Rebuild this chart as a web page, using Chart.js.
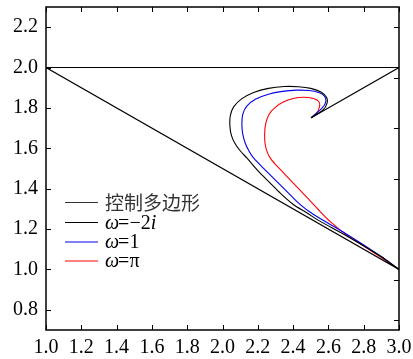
<!DOCTYPE html>
<html>
<head>
<meta charset="utf-8">
<script src="https://cdn.jsdelivr.net/npm/chart.js@4/dist/chart.umd.min.js"></script>
<style>
  html, body { margin: 0; padding: 0; background: #fff; }
  #wrap { width: 413px; height: 359px; }
</style>
</head>
<body>
<div id="wrap"><canvas id="chart" width="413" height="359"></canvas></div>
<script>
// axis ranges and ticks
const xRange = [1.0, 3.0]
const yRange = [0.7, 2.3]
const xTicks = [1.0, 1.2, 1.4, 1.6, 1.8, 2.0, 2.2, 2.4, 2.6, 2.8, 3.0]
const yTicks = [0.8, 1.0, 1.2, 1.4, 1.6, 1.8, 2.0, 2.2]
const rightTicks = [2.2, 1.95, 1.7, 1.45, 1.2, 0.95, 0.75]

// control polygon
const polyX = [3.0, 1.0, 3.0, 2.5]
const polyY = [1.0, 2.0, 2.0, 1.75]

// omega = -2i
const blackX = [2.505, 2.570, 2.592, 2.590, 2.560, 2.500, 2.430, 2.350, 2.260, 2.180, 2.110, 2.063, 2.044, 2.042, 2.050, 2.070, 2.100, 2.139, 2.212, 2.269, 2.326, 2.401, 2.477, 2.534, 2.704, 2.892, 3.0]
const blackY = [1.753, 1.790, 1.823, 1.852, 1.878, 1.897, 1.905, 1.906, 1.897, 1.878, 1.846, 1.805, 1.760, 1.710, 1.665, 1.625, 1.588, 1.551, 1.478, 1.429, 1.379, 1.322, 1.281, 1.248, 1.166, 1.068, 1.0]

// omega = 1
const blueX = [2.505, 2.565, 2.585, 2.578, 2.545, 2.490, 2.420, 2.340, 2.260, 2.186, 2.139, 2.116, 2.110, 2.114, 2.129, 2.150, 2.177, 2.250, 2.307, 2.364, 2.439, 2.514, 2.704, 2.892, 3.0]
const blueY = [1.753, 1.800, 1.830, 1.858, 1.876, 1.886, 1.888, 1.882, 1.868, 1.843, 1.810, 1.772, 1.723, 1.674, 1.625, 1.587, 1.551, 1.486, 1.436, 1.387, 1.322, 1.273, 1.174, 1.068, 1.0]

// omega = pi
const redX = [2.505, 2.534, 2.550, 2.545, 2.515, 2.460, 2.400, 2.344, 2.299, 2.265, 2.245, 2.239, 2.241, 2.250, 2.268, 2.300, 2.344, 2.401, 2.477, 2.552, 2.609, 2.704, 2.798, 3.0]
const redY = [1.753, 1.776, 1.807, 1.832, 1.847, 1.853, 1.847, 1.829, 1.803, 1.770, 1.723, 1.674, 1.625, 1.590, 1.555, 1.520, 1.480, 1.428, 1.358, 1.288, 1.238, 1.170, 1.117, 1.0]

const labels = ['控制多边形', 'ω=−2i', 'ω=1', 'ω=π']
const colors = ['#000000', '#000000', '#0000ee', '#ff0000']

const pts = (xs, ys) => xs.map((x, i) => ({ x: x, y: ys[i] }))

function line (label, data, color, tension) {
  return {
    label: label,
    data: data,
    showLine: true,
    borderColor: color,
    borderWidth: 1.1,
    pointRadius: 0,
    tension: tension,
    fill: false
  }
}

const serif = "'Liberation Serif', 'Times New Roman', serif"

// frame, inward ticks and legend
const decor = {
  id: 'decor',
  afterDraw (chart) {
    const { ctx, chartArea: a, scales } = chart
    ctx.save()
    ctx.strokeStyle = '#000'
    ctx.lineWidth = 1.5
    ctx.strokeRect(a.left, a.top, a.right - a.left, a.bottom - a.top)
    ctx.lineWidth = 1
    ctx.beginPath()
    xTicks.forEach(v => {
      const px = Math.round(scales.x.getPixelForValue(v)) + 0.5
      ctx.moveTo(px, a.bottom); ctx.lineTo(px, a.bottom - 5)
      ctx.moveTo(px, a.top); ctx.lineTo(px, a.top + 5)
    })
    yTicks.forEach(v => {
      const py = Math.round(scales.y.getPixelForValue(v)) + 0.5
      ctx.moveTo(a.left, py); ctx.lineTo(a.left + 5, py)
    })
    rightTicks.forEach(v => {
      const py = Math.round(scales.y.getPixelForValue(v)) + 0.5
      ctx.moveTo(a.right, py); ctx.lineTo(a.right - 5, py)
    })
    ctx.stroke()

    // legend
    const lx = 65, tx = 105
    const rows = [202.5, 222.5, 242, 261]
    ctx.textBaseline = 'middle'
    rows.forEach((y, i) => {
      ctx.strokeStyle = i === 0 ? '#333' : colors[i]
      ctx.lineWidth = 1.2
      ctx.beginPath()
      ctx.moveTo(lx, y); ctx.lineTo(lx + 33, y)
      ctx.stroke()
    })
    ctx.fillStyle = '#333'
    ctx.font = "19px 'Noto Sans CJK SC'"
    ctx.fillText(labels[0], tx, rows[0])
    ctx.fillStyle = '#000'
    const parts = [
      [['ω', true], ['=−2', false], ['i', true]],
      [['ω', true], ['=1', false]],
      [['ω', true], ['=π', false]]
    ]
    parts.forEach((p, i) => {
      let x = tx
      p.forEach(([s, it]) => {
        ctx.font = (it ? 'italic ' : '') + '20px ' + serif
        ctx.fillText(s, x, rows[i + 1] + 1)
        x += ctx.measureText(s).width - (it && s === 'ω' ? 1 : 0)
      })
    })
    ctx.restore()
  }
}

new Chart(document.getElementById('chart'), {
  type: 'scatter',
  data: {
    datasets: [
      line(labels[0], pts(polyX, polyY), colors[0], 0),
      line(labels[1], pts(blackX, blackY), colors[1], 0.3),
      line(labels[2], pts(blueX, blueY), colors[2], 0.3),
      line(labels[3], pts(redX, redY), colors[3], 0.3)
    ]
  },
  options: {
    responsive: false,
    animation: false,
    devicePixelRatio: 1,
    layout: { padding: { top: 7, right: 14, left: 0, bottom: 0 } },
    plugins: { legend: { display: false }, tooltip: { enabled: false } },
    scales: {
      x: {
        type: 'linear',
        min: xRange[0],
        max: xRange[1],
        afterBuildTicks: s => { s.ticks = xTicks.map(v => ({ value: v })) },
        afterFit: s => { s.height = 29; s.paddingLeft = 0; s.paddingRight = 0 },
        grid: { display: false, drawTicks: false },
        border: { display: false },
        ticks: {
          padding: 6,
          color: '#000',
          maxRotation: 0,
          autoSkip: false,
          font: { family: serif, size: 20 },
          callback: v => Number(v).toFixed(1)
        }
      },
      y: {
        type: 'linear',
        min: yRange[0],
        max: yRange[1],
        afterBuildTicks: s => { s.ticks = yTicks.map(v => ({ value: v })) },
        afterFit: s => { s.width = 46; s.paddingTop = 0; s.paddingBottom = 0 },
        grid: { display: false, drawTicks: false },
        border: { display: false },
        ticks: {
          padding: 8,
          color: '#000',
          autoSkip: false,
          font: { family: serif, size: 20 },
          callback: v => Number(v).toFixed(1)
        }
      }
    }
  },
  plugins: [decor]
})
</script>
</body>
</html>
